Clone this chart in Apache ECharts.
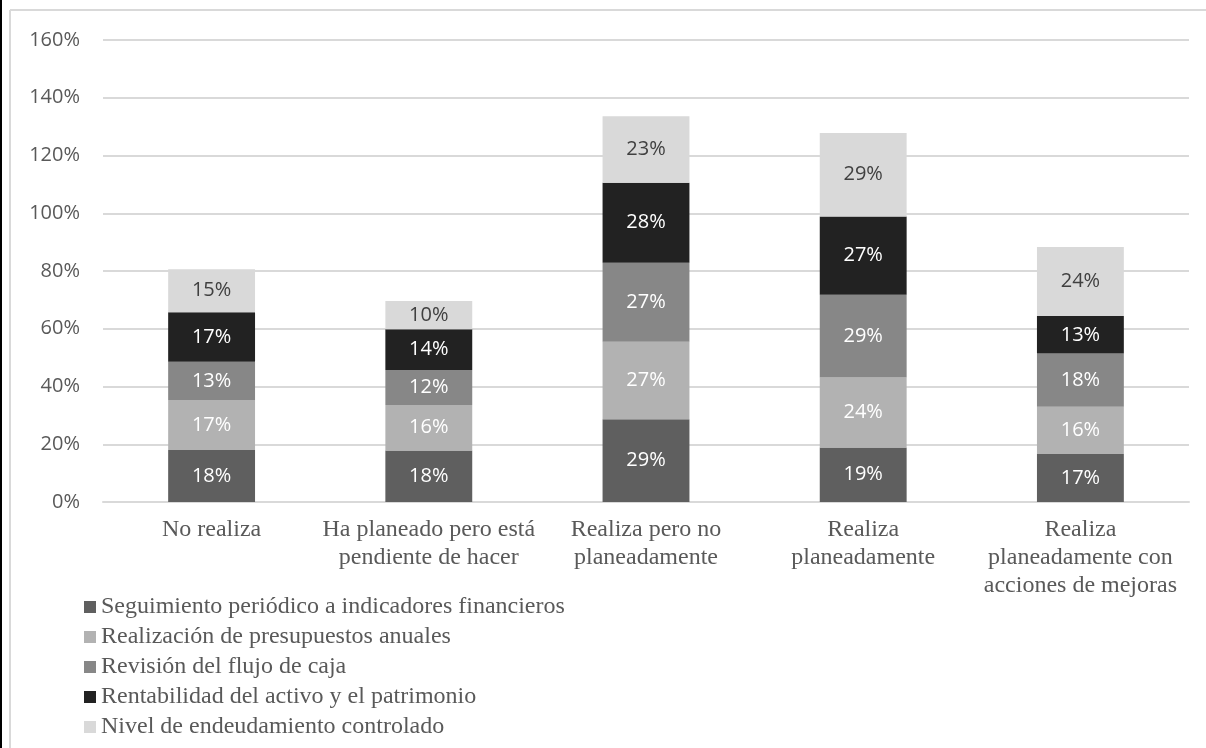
<!DOCTYPE html>
<html>
<head>
<meta charset="utf-8">
<script src="https://cdn.jsdelivr.net/npm/echarts@6/dist/echarts.min.js"></script>
<style>
html,body{margin:0;padding:0;background:#fff;}
#chart{width:1206px;height:748px;}
</style>
</head>
<body>
<div id="chart"></div>
<script>
const categories = [
  'No realiza',
  'Ha planeado pero está\npendiente de hacer',
  'Realiza pero no\nplaneadamente',
  'Realiza\nplaneadamente',
  'Realiza\nplaneadamente con\nacciones de mejoras'
];
const seriesNames = [
  'Seguimiento periódico a indicadores financieros',
  'Realización de presupuestos anuales',
  'Revisión del flujo de caja',
  'Rentabilidad del activo y el patrimonio',
  'Nivel de endeudamiento controlado'
];
const seguimiento   = [18.0, 17.8, 28.7, 18.9, 16.6];
const presupuestos  = [17.3, 15.8, 26.8, 24.2, 16.4];
const flujoCaja     = [13.3, 12.1, 27.4, 28.7, 18.4];
const rentabilidad  = [17.1, 14.1, 27.7, 27.1, 13.0];
const endeudamiento = [14.9, 9.8, 23.0, 28.9, 23.9];
const yTicks = [0, 20, 40, 60, 80, 100, 120, 140, 160];

const seriesData = [seguimiento, presupuestos, flujoCaja, rentabilidad, endeudamiento];
const colors = ['#5f5f5f', '#b2b2b2', '#878787', '#222222', '#d9d9d9'];
const labelColors = ['#ffffff', '#ffffff', '#ffffff', '#ffffff', '#404040'];

const chart = echarts.init(document.getElementById('chart'));
chart.setOption({
  animation: false,
  backgroundColor: '#ffffff',
  graphic: [
    { type: 'rect', shape: { x: 0, y: 0, width: 2, height: 748 }, style: { fill: '#000000' }, silent: true },
    { type: 'line', shape: { x1: 10, y1: 10, x2: 1206, y2: 10 }, style: { stroke: '#d9d9d9', lineWidth: 2 }, silent: true },
    { type: 'line', shape: { x1: 10, y1: 10, x2: 10, y2: 748 }, style: { stroke: '#d9d9d9', lineWidth: 2 }, silent: true }
  ],
  grid: { left: 103, right: 17, top: 40, bottom: 246, containLabel: false },
  legend: {
    orient: 'vertical',
    left: 84,
    top: 595,
    height: 400,
    padding: 0,
    itemWidth: 12,
    itemHeight: 12,
    itemGap: 6,
    icon: 'rect',
    textStyle: { fontFamily: 'Liberation Serif', fontSize: 24, color: '#595959', lineHeight: 24 },
    data: seriesNames
  },
  xAxis: {
    type: 'category',
    data: categories,
    axisLine: { show: true, lineStyle: { color: '#d9d9d9', width: 2 } },
    axisTick: { show: false },
    axisLabel: {
      interval: 0,
      margin: 14,
      fontFamily: 'Liberation Serif',
      fontSize: 24,
      lineHeight: 28,
      color: '#595959',
      align: 'center',
      verticalAlign: 'top'
    }
  },
  yAxis: {
    type: 'value',
    min: yTicks[0],
    max: yTicks[yTicks.length - 1],
    interval: 20,
    axisLine: { show: false },
    axisTick: { show: false },
    splitLine: { lineStyle: { color: '#d9d9d9', width: 2 } },
    axisLabel: {
      margin: 23,
      formatter: '{value}%',
      fontFamily: 'Open Sans',
      fontSize: 20,
      color: '#595959'
    }
  },
  series: seriesNames.map((name, i) => ({
    name: name,
    type: 'bar',
    stack: 'total',
    barWidth: '40%',
    data: seriesData[i],
    itemStyle: { color: colors[i] },
    label: {
      show: true,
      position: 'inside',
      formatter: p => Math.round(p.value) + '%',
      fontFamily: 'Open Sans',
      fontSize: 20,
      color: labelColors[i]
    }
  }))
});
</script>
</body>
</html>
